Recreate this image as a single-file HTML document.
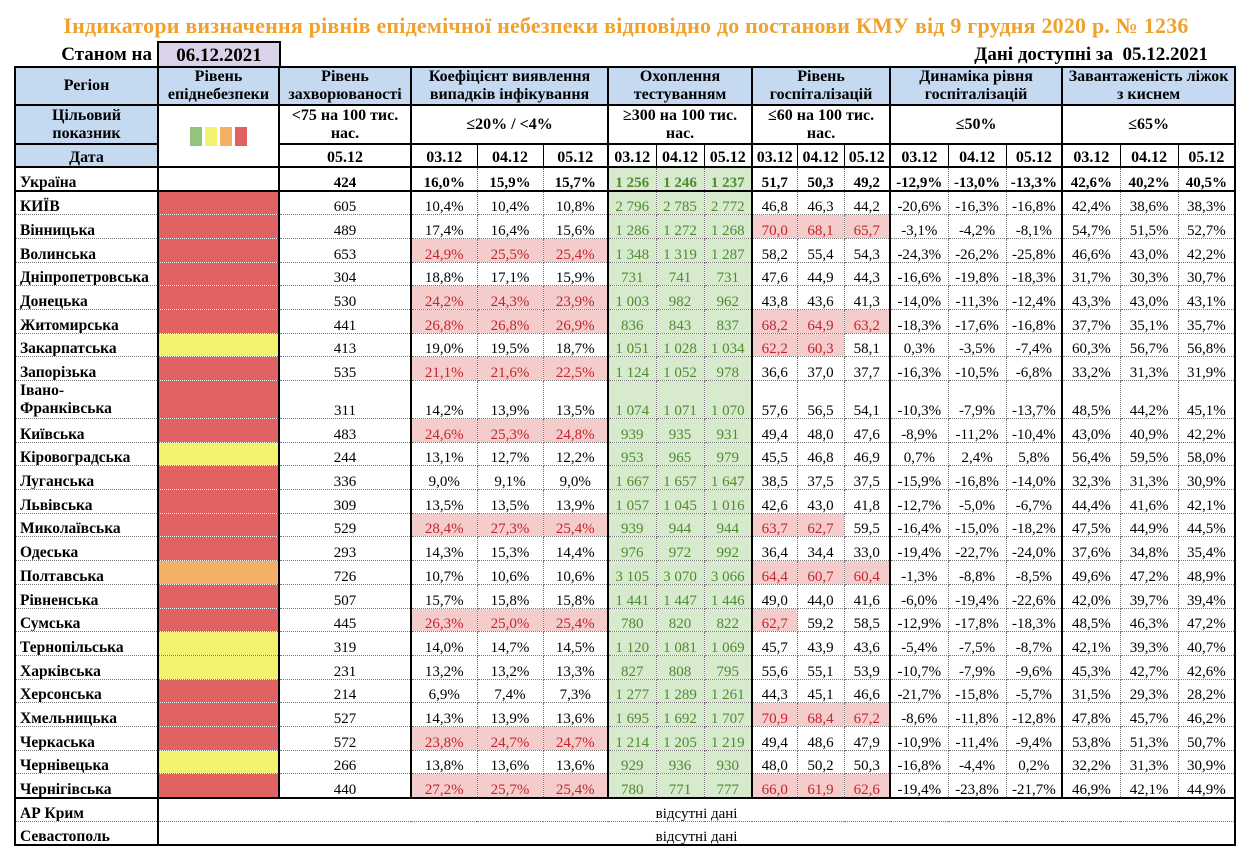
<!DOCTYPE html>
<html>
<head>
<meta charset="utf-8">
<style>
body{margin:0;width:1252px;height:858px;background:#fff;position:relative;font-family:"Liberation Serif","DejaVu Serif",serif;overflow:hidden;color:#000}
.title{position:absolute;top:13px;left:0;width:1252px;text-align:center;color:#F0A22E;font-weight:bold;font-size:22px;letter-spacing:0.2px;line-height:25px;white-space:nowrap}
.stan{position:absolute;top:44px;left:0;width:152px;text-align:right;font-weight:bold;font-size:19px;line-height:22px}
.datebox{position:absolute;top:41px;left:157px;width:120px;height:25px;border:2px solid #000;border-bottom:none;background:#D9D2E9;font-weight:bold;font-size:19px;line-height:25px;text-align:center}
.avail{position:absolute;top:44px;right:44px;font-weight:bold;font-size:19px;line-height:22px;white-space:nowrap}
table{position:absolute;left:14px;top:66px;width:1222px;border-collapse:collapse;table-layout:fixed;border:2px solid #000}
td,th{border:1px dotted #777;padding:0 1px 1px;text-align:center;vertical-align:bottom;font-size:15px;line-height:12px;white-space:nowrap;overflow:hidden;font-weight:normal}
th{text-align:left;font-weight:bold;padding-left:4px;font-size:15.5px}
tr.h td,tr.h th{border:2px solid #000;font-weight:bold;vertical-align:middle;text-align:center;line-height:18px;white-space:normal;padding:0;font-size:16px}
tr.h2 td{padding-top:3px}
.hd{background:#C5D9F1}
tr.d td,tr.d th{border-top:2px solid #000;border-bottom:2px solid #000;border-left:1px solid #000;border-right:1px solid #000;font-weight:bold;font-size:16px;text-align:center;padding:0 0 1px;line-height:14px}
td.g,th.g{border-left:2px solid #000 !important}
tr.u td,tr.u th{font-weight:bold;border-bottom:2px solid #000}
tr.x1 td,tr.x1 th{border-top:2px solid #000}
.r{background:#E06262}
.y{background:#F2F26E}
.o{background:#F4B066}
.t{background:#D7EACE;color:#4E8C2E}
.p{background:#F4CCCC;color:#C3262C}
.sw{display:inline-block;width:12px;height:19px;margin:0 1.5px;vertical-align:middle}
tr.n{height:23.7px}
</style>
</head>
<body>
<div class="title">Індикатори визначення рівнів епідемічної небезпеки відповідно до постанови КМУ від 9 грудня 2020 р. № 1236</div>
<div class="stan">Станом на</div>
<div class="datebox">06.12.2021</div>
<div class="avail">Дані доступні за&nbsp; 05.12.2021</div>
<table>
<colgroup>
<col style="width:143px"><col style="width:121px"><col style="width:132px">
<col style="width:66px"><col style="width:66px"><col style="width:65px">
<col style="width:48px"><col style="width:48px"><col style="width:48px">
<col style="width:45px"><col style="width:47px"><col style="width:46px">
<col style="width:58px"><col style="width:58px"><col style="width:56px">
<col style="width:58px"><col style="width:58px"><col style="width:57px">
</colgroup>
<tr class="h" style="height:37px">
<td class="hd">Регіон</td>
<td class="hd">Рівень<br>епіднебезпеки</td>
<td class="hd">Рівень<br>захворюваності</td>
<td class="hd" colspan="3">Коефіцієнт виявлення<br>випадків інфікування</td>
<td class="hd" colspan="3">Охоплення<br>тестуванням</td>
<td class="hd" colspan="3">Рівень<br>госпіталізацій</td>
<td class="hd" colspan="3">Динаміка рівня<br>госпіталізацій</td>
<td class="hd" colspan="3">Завантаженість ліжок<br>з киснем</td>
</tr>
<tr class="h" style="height:39px">
<td class="hd">Цільовий<br>показник</td>
<td rowspan="2" style="background:#fff"><span class="sw" style="background:#93C47D"></span><span class="sw" style="background:#F2F26E"></span><span class="sw" style="background:#F4B066"></span><span class="sw" style="background:#E06262"></span></td>
<td>&lt;75 на 100 тис.<br>нас.</td>
<td colspan="3">≤20% / &lt;4%</td>
<td colspan="3">≥300 на 100 тис.<br>нас.</td>
<td colspan="3">≤60 на 100 тис.<br>нас.</td>
<td colspan="3">≤50%</td>
<td colspan="3">≤65%</td>
</tr>
<tr class="d" style="height:23px">
<td class="hd g">Дата</td>
<td class="g">05.12</td>
<td class="g">03.12</td><td>04.12</td><td>05.12</td>
<td class="g">03.12</td><td>04.12</td><td>05.12</td>
<td class="g">03.12</td><td>04.12</td><td>05.12</td>
<td class="g">03.12</td><td>04.12</td><td>05.12</td>
<td class="g">03.12</td><td>04.12</td><td>05.12</td>
</tr>
<tr class="u" style="height:24px">
<th>Україна</th><td class="g"></td><td class="g">424</td>
<td class="g">16,0%</td><td>15,9%</td><td>15,7%</td>
<td class="g t">1&nbsp;256</td><td class="t">1&nbsp;246</td><td class="t">1&nbsp;237</td>
<td class="g">51,7</td><td>50,3</td><td>49,2</td>
<td class="g">-12,9%</td><td>-13,0%</td><td>-13,3%</td>
<td class="g">42,6%</td><td>40,2%</td><td>40,5%</td>
</tr>
<tr class="n"><th>КИЇВ</th><td class="g r"></td><td class="g">605</td><td class="g">10,4%</td><td>10,4%</td><td>10,8%</td><td class="g t">2&nbsp;796</td><td class="t">2&nbsp;785</td><td class="t">2&nbsp;772</td><td class="g">46,8</td><td>46,3</td><td>44,2</td><td class="g">-20,6%</td><td>-16,3%</td><td>-16,8%</td><td class="g">42,4%</td><td>38,6%</td><td>38,3%</td></tr>
<tr class="n"><th>Вінницька</th><td class="g r"></td><td class="g">489</td><td class="g">17,4%</td><td>16,4%</td><td>15,6%</td><td class="g t">1&nbsp;286</td><td class="t">1&nbsp;272</td><td class="t">1&nbsp;268</td><td class="g p">70,0</td><td class="p">68,1</td><td class="p">65,7</td><td class="g">-3,1%</td><td>-4,2%</td><td>-8,1%</td><td class="g">54,7%</td><td>51,5%</td><td>52,7%</td></tr>
<tr class="n"><th>Волинська</th><td class="g r"></td><td class="g">653</td><td class="g p">24,9%</td><td class="p">25,5%</td><td class="p">25,4%</td><td class="g t">1&nbsp;348</td><td class="t">1&nbsp;319</td><td class="t">1&nbsp;287</td><td class="g">58,2</td><td>55,4</td><td>54,3</td><td class="g">-24,3%</td><td>-26,2%</td><td>-25,8%</td><td class="g">46,6%</td><td>43,0%</td><td>42,2%</td></tr>
<tr class="n"><th>Дніпропетровська</th><td class="g r"></td><td class="g">304</td><td class="g">18,8%</td><td>17,1%</td><td>15,9%</td><td class="g t">731</td><td class="t">741</td><td class="t">731</td><td class="g">47,6</td><td>44,9</td><td>44,3</td><td class="g">-16,6%</td><td>-19,8%</td><td>-18,3%</td><td class="g">31,7%</td><td>30,3%</td><td>30,7%</td></tr>
<tr class="n"><th>Донецька</th><td class="g r"></td><td class="g">530</td><td class="g p">24,2%</td><td class="p">24,3%</td><td class="p">23,9%</td><td class="g t">1&nbsp;003</td><td class="t">982</td><td class="t">962</td><td class="g">43,8</td><td>43,6</td><td>41,3</td><td class="g">-14,0%</td><td>-11,3%</td><td>-12,4%</td><td class="g">43,3%</td><td>43,0%</td><td>43,1%</td></tr>
<tr class="n"><th>Житомирська</th><td class="g r"></td><td class="g">441</td><td class="g p">26,8%</td><td class="p">26,8%</td><td class="p">26,9%</td><td class="g t">836</td><td class="t">843</td><td class="t">837</td><td class="g p">68,2</td><td class="p">64,9</td><td class="p">63,2</td><td class="g">-18,3%</td><td>-17,6%</td><td>-16,8%</td><td class="g">37,7%</td><td>35,1%</td><td>35,7%</td></tr>
<tr class="n"><th>Закарпатська</th><td class="g y"></td><td class="g">413</td><td class="g">19,0%</td><td>19,5%</td><td>18,7%</td><td class="g t">1&nbsp;051</td><td class="t">1&nbsp;028</td><td class="t">1&nbsp;034</td><td class="g p">62,2</td><td class="p">60,3</td><td>58,1</td><td class="g">0,3%</td><td>-3,5%</td><td>-7,4%</td><td class="g">60,3%</td><td>56,7%</td><td>56,8%</td></tr>
<tr class="n"><th>Запорізька</th><td class="g r"></td><td class="g">535</td><td class="g p">21,1%</td><td class="p">21,6%</td><td class="p">22,5%</td><td class="g t">1&nbsp;124</td><td class="t">1&nbsp;052</td><td class="t">978</td><td class="g">36,6</td><td>37,0</td><td>37,7</td><td class="g">-16,3%</td><td>-10,5%</td><td>-6,8%</td><td class="g">33,2%</td><td>31,3%</td><td>31,9%</td></tr>
<tr style="height:38px"><th style="white-space:normal;line-height:18px;padding-bottom:0">Івано-<br>Франківська</th><td class="g r"></td><td class="g">311</td><td class="g">14,2%</td><td>13,9%</td><td>13,5%</td><td class="g t">1&nbsp;074</td><td class="t">1&nbsp;071</td><td class="t">1&nbsp;070</td><td class="g">57,6</td><td>56,5</td><td>54,1</td><td class="g">-10,3%</td><td>-7,9%</td><td>-13,7%</td><td class="g">48,5%</td><td>44,2%</td><td>45,1%</td></tr>
<tr class="n"><th>Київська</th><td class="g r"></td><td class="g">483</td><td class="g p">24,6%</td><td class="p">25,3%</td><td class="p">24,8%</td><td class="g t">939</td><td class="t">935</td><td class="t">931</td><td class="g">49,4</td><td>48,0</td><td>47,6</td><td class="g">-8,9%</td><td>-11,2%</td><td>-10,4%</td><td class="g">43,0%</td><td>40,9%</td><td>42,2%</td></tr>
<tr class="n"><th>Кіровоградська</th><td class="g y"></td><td class="g">244</td><td class="g">13,1%</td><td>12,7%</td><td>12,2%</td><td class="g t">953</td><td class="t">965</td><td class="t">979</td><td class="g">45,5</td><td>46,8</td><td>46,9</td><td class="g">0,7%</td><td>2,4%</td><td>5,8%</td><td class="g">56,4%</td><td>59,5%</td><td>58,0%</td></tr>
<tr class="n"><th>Луганська</th><td class="g r"></td><td class="g">336</td><td class="g">9,0%</td><td>9,1%</td><td>9,0%</td><td class="g t">1&nbsp;667</td><td class="t">1&nbsp;657</td><td class="t">1&nbsp;647</td><td class="g">38,5</td><td>37,5</td><td>37,5</td><td class="g">-15,9%</td><td>-16,8%</td><td>-14,0%</td><td class="g">32,3%</td><td>31,3%</td><td>30,9%</td></tr>
<tr class="n"><th>Львівська</th><td class="g r"></td><td class="g">309</td><td class="g">13,5%</td><td>13,5%</td><td>13,9%</td><td class="g t">1&nbsp;057</td><td class="t">1&nbsp;045</td><td class="t">1&nbsp;016</td><td class="g">42,6</td><td>43,0</td><td>41,8</td><td class="g">-12,7%</td><td>-5,0%</td><td>-6,7%</td><td class="g">44,4%</td><td>41,6%</td><td>42,1%</td></tr>
<tr class="n"><th>Миколаївська</th><td class="g r"></td><td class="g">529</td><td class="g p">28,4%</td><td class="p">27,3%</td><td class="p">25,4%</td><td class="g t">939</td><td class="t">944</td><td class="t">944</td><td class="g p">63,7</td><td class="p">62,7</td><td>59,5</td><td class="g">-16,4%</td><td>-15,0%</td><td>-18,2%</td><td class="g">47,5%</td><td>44,9%</td><td>44,5%</td></tr>
<tr class="n"><th>Одеська</th><td class="g r"></td><td class="g">293</td><td class="g">14,3%</td><td>15,3%</td><td>14,4%</td><td class="g t">976</td><td class="t">972</td><td class="t">992</td><td class="g">36,4</td><td>34,4</td><td>33,0</td><td class="g">-19,4%</td><td>-22,7%</td><td>-24,0%</td><td class="g">37,6%</td><td>34,8%</td><td>35,4%</td></tr>
<tr class="n"><th>Полтавська</th><td class="g o"></td><td class="g">726</td><td class="g">10,7%</td><td>10,6%</td><td>10,6%</td><td class="g t">3&nbsp;105</td><td class="t">3&nbsp;070</td><td class="t">3&nbsp;066</td><td class="g p">64,4</td><td class="p">60,7</td><td class="p">60,4</td><td class="g">-1,3%</td><td>-8,8%</td><td>-8,5%</td><td class="g">49,6%</td><td>47,2%</td><td>48,9%</td></tr>
<tr class="n"><th>Рівненська</th><td class="g r"></td><td class="g">507</td><td class="g">15,7%</td><td>15,8%</td><td>15,8%</td><td class="g t">1&nbsp;441</td><td class="t">1&nbsp;447</td><td class="t">1&nbsp;446</td><td class="g">49,0</td><td>44,0</td><td>41,6</td><td class="g">-6,0%</td><td>-19,4%</td><td>-22,6%</td><td class="g">42,0%</td><td>39,7%</td><td>39,4%</td></tr>
<tr class="n"><th>Сумська</th><td class="g r"></td><td class="g">445</td><td class="g p">26,3%</td><td class="p">25,0%</td><td class="p">25,4%</td><td class="g t">780</td><td class="t">820</td><td class="t">822</td><td class="g p">62,7</td><td>59,2</td><td>58,5</td><td class="g">-12,9%</td><td>-17,8%</td><td>-18,3%</td><td class="g">48,5%</td><td>46,3%</td><td>47,2%</td></tr>
<tr class="n"><th>Тернопільська</th><td class="g y"></td><td class="g">319</td><td class="g">14,0%</td><td>14,7%</td><td>14,5%</td><td class="g t">1&nbsp;120</td><td class="t">1&nbsp;081</td><td class="t">1&nbsp;069</td><td class="g">45,7</td><td>43,9</td><td>43,6</td><td class="g">-5,4%</td><td>-7,5%</td><td>-8,7%</td><td class="g">42,1%</td><td>39,3%</td><td>40,7%</td></tr>
<tr class="n"><th>Харківська</th><td class="g y"></td><td class="g">231</td><td class="g">13,2%</td><td>13,2%</td><td>13,3%</td><td class="g t">827</td><td class="t">808</td><td class="t">795</td><td class="g">55,6</td><td>55,1</td><td>53,9</td><td class="g">-10,7%</td><td>-7,9%</td><td>-9,6%</td><td class="g">45,3%</td><td>42,7%</td><td>42,6%</td></tr>
<tr class="n"><th>Херсонська</th><td class="g r"></td><td class="g">214</td><td class="g">6,9%</td><td>7,4%</td><td>7,3%</td><td class="g t">1&nbsp;277</td><td class="t">1&nbsp;289</td><td class="t">1&nbsp;261</td><td class="g">44,3</td><td>45,1</td><td>46,6</td><td class="g">-21,7%</td><td>-15,8%</td><td>-5,7%</td><td class="g">31,5%</td><td>29,3%</td><td>28,2%</td></tr>
<tr class="n"><th>Хмельницька</th><td class="g r"></td><td class="g">527</td><td class="g">14,3%</td><td>13,9%</td><td>13,6%</td><td class="g t">1&nbsp;695</td><td class="t">1&nbsp;692</td><td class="t">1&nbsp;707</td><td class="g p">70,9</td><td class="p">68,4</td><td class="p">67,2</td><td class="g">-8,6%</td><td>-11,8%</td><td>-12,8%</td><td class="g">47,8%</td><td>45,7%</td><td>46,2%</td></tr>
<tr class="n"><th>Черкаська</th><td class="g r"></td><td class="g">572</td><td class="g p">23,8%</td><td class="p">24,7%</td><td class="p">24,7%</td><td class="g t">1&nbsp;214</td><td class="t">1&nbsp;205</td><td class="t">1&nbsp;219</td><td class="g">49,4</td><td>48,6</td><td>47,9</td><td class="g">-10,9%</td><td>-11,4%</td><td>-9,4%</td><td class="g">53,8%</td><td>51,3%</td><td>50,7%</td></tr>
<tr class="n"><th>Чернівецька</th><td class="g y"></td><td class="g">266</td><td class="g">13,8%</td><td>13,6%</td><td>13,6%</td><td class="g t">929</td><td class="t">936</td><td class="t">930</td><td class="g">48,0</td><td>50,2</td><td>50,3</td><td class="g">-16,8%</td><td>-4,4%</td><td>0,2%</td><td class="g">32,2%</td><td>31,3%</td><td>30,9%</td></tr>
<tr class="n"><th>Чернігівська</th><td class="g r"></td><td class="g">440</td><td class="g p">27,2%</td><td class="p">25,7%</td><td class="p">25,4%</td><td class="g t">780</td><td class="t">771</td><td class="t">777</td><td class="g p">66,0</td><td class="p">61,9</td><td class="p">62,6</td><td class="g">-19,4%</td><td>-23,8%</td><td>-21,7%</td><td class="g">46,9%</td><td>42,1%</td><td>44,9%</td></tr>
<tr class="x1" style="height:23.5px"><th>АР Крим</th><td class="g" colspan="17">відсутні дані</td></tr>
<tr style="height:24px"><th>Севастополь</th><td class="g" colspan="17">відсутні дані</td></tr>
</table>
</body>
</html>
